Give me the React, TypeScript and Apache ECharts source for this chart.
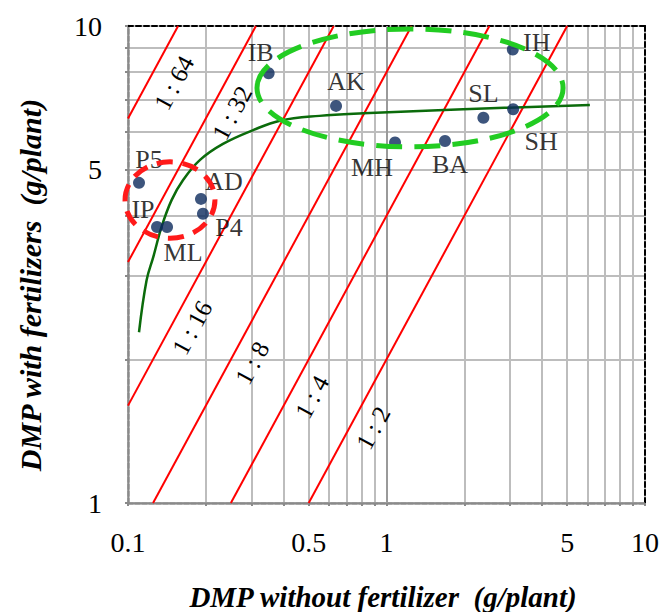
import React, { useEffect, useRef } from 'react';
import * as echarts from 'echarts';

// ---- axis ticks / grid values (g/plant) ----
const xGridValues = [0.1, 0.2, 0.3, 0.4, 0.5, 0.6, 0.7, 0.8, 0.9, 1, 2, 3, 4, 5, 6, 7, 8, 9, 10];
const yGridValues = [1, 2, 3, 4, 5, 6, 7, 8, 9, 10];
const xTickLabels = [0.1, 0.5, 1, 5, 10];
const yTickLabels = [1, 5, 10];

// ---- ratio guide lines  y = k * x  ("1 : k") ----
const ratioDenominators = [2, 4, 8, 16, 32, 64];
const ratioLabelX = [0.887, 0.515, 0.302, 0.177, 0.2525, 0.1507];
const ratioLabelY = [1.436, 1.668, 1.966, 2.33, 6.57, 7.6];

// ---- genotypes ----
const genotypes = ['IB', 'AK', 'MH', 'BA', 'SL', 'SH', 'IH', 'P5', 'AD', 'P4', 'IP', 'ML'];
const dmpWithoutFertilizer = [0.35, 0.638, 1.079, 1.684, 2.37, 3.09, 3.08, 0.1103, 0.1916, 0.195, 0.1295, 0.1416];
const dmpWithFertilizer = [7.96, 6.8, 5.7, 5.74, 6.42, 6.69, 8.93, 4.69, 4.34, 4.04, 3.79, 3.79];

// ---- fitted trend curve ----
const trendX = [0.1103, 0.118, 0.1253, 0.135, 0.1476, 0.1636, 0.19, 0.233, 0.305, 0.387, 0.55, 0.813, 1.98, 6.12];
const trendY = [2.28, 2.93, 3.28, 3.8, 4.32, 4.76, 5.24, 5.66, 6.05, 6.33, 6.48, 6.56, 6.69, 6.83];

// ---- group ellipses (data-space bounding boxes) ----
const ellipseXMin = [0.3155, 0.0974];
const ellipseXMax = [4.82, 0.217];
const ellipseYMin = [5.58, 3.59];
const ellipseYMax = [9.86, 5.19];

// label offsets (px) for genotype names
const labelOffsets: Record<string, [number, number]> = {
  IB: [-8, -21], AK: [10, -24], MH: [-23, 25], BA: [5, 24], SL: [0, -24], SH: [28, 32],
  IH: [24, -7], P5: [10, -23], AD: [23, -17], P4: [26, 14], IP: [-14, -17], ML: [16, 26],
};
const ellipseColors = ['#22cc22', '#ff1a1a'];
const ellipseDash = [[26, 12], [16, 10]];

const SERIF = '"Liberation Serif", "Times New Roman", serif';
const lg = (v: number) => Math.log10(v);
const fmt = (v: number) => String(Number(Math.pow(10, v).toPrecision(2)));

export default function App() {
  const ref = useRef<HTMLDivElement>(null);
  useEffect(() => {
    document.body.style.margin = '0';
    const chart = echarts.init(ref.current!, null, { renderer: 'svg' });

    const ratioSeries = ratioDenominators.map((k, i) => {
      const x1 = Math.max(0.1, 1 / k);
      const x2 = Math.min(10, 10 / k);
      return {
        type: 'line',
        silent: true,
        symbol: 'none',
        z: 3,
        data: [[lg(x1), lg(k * x1)], [lg(x2), lg(k * x2)]],
        lineStyle: { color: '#ff0000', width: 2 },
        ...(i === 0
          ? {
              markLine: {
                silent: true,
                symbol: 'none',
                label: { show: false },
                z: 1,
                lineStyle: { color: '#9a9a9a', width: 2, type: 'solid' },
                data: [{ xAxis: 0 }],
              },
            }
          : {}),
      };
    });

    const option: any = {
      animation: false,
      grid: { left: 128, right: 18, top: 26, bottom: 109, containLabel: false, outerBoundsMode: 'none' },
      xAxis: [
        {
          type: 'value', min: -1, max: 1, position: 'bottom',
          axisLine: { onZero: false, lineStyle: { color: '#8a8a8a', width: 2.5, type: [5, 2] } },
          axisTick: { show: true, length: 3, customValues: xGridValues.map(lg), lineStyle: { color: '#8a8a8a', width: 2 } },
          splitLine: { show: true, lineStyle: { color: '#bdbdbd', width: 2 } },
          axisLabel: {
            customValues: xTickLabels.map(lg), formatter: fmt, margin: 25,
            fontFamily: SERIF, fontSize: 28, color: '#000',
          },
        },
        {
          type: 'value', min: -1, max: 1, position: 'top',
          axisLine: { show: true, onZero: false, lineStyle: { color: '#000', width: 2, type: [5, 3] } },
          axisTick: { show: false }, axisLabel: { show: false }, splitLine: { show: false },
        },
      ],
      yAxis: [
        {
          type: 'value', min: 0, max: 1, position: 'left',
          axisLine: { show: true, onZero: false, lineStyle: { color: '#8a8a8a', width: 2.5, type: [5, 2] } },
          axisTick: { show: true, length: 3, customValues: yGridValues.map(lg), lineStyle: { color: '#8a8a8a', width: 2 } },
          splitLine: { show: true, lineStyle: { color: '#bdbdbd', width: 2 } },
          axisLabel: {
            customValues: yTickLabels.map(lg), formatter: fmt, margin: 26,
            fontFamily: SERIF, fontSize: 28, color: '#000',
          },
        },
        {
          type: 'value', min: 0, max: 1, position: 'right',
          axisLine: { show: true, onZero: false, lineStyle: { color: '#000', width: 2, type: [5, 3] } },
          axisTick: { show: false }, axisLabel: { show: false }, splitLine: { show: false },
        },
      ],
      graphic: [
        {
          type: 'text', x: 383, y: 597,
          style: {
            text: 'DMP without fertilizer  (g/plant)', fill: '#000',
            font: `italic bold 29px ${SERIF}`, align: 'center', verticalAlign: 'middle',
          },
        },
        {
          type: 'text', x: 30, y: 285, rotation: Math.PI / 2,
          style: {
            text: 'DMP with fertilizers  (g/plant)', fill: '#000',
            font: `italic bold 30px ${SERIF}`, align: 'center', verticalAlign: 'middle',
          },
        },
      ],
      series: [
        ...ratioSeries,
        {
          type: 'custom',
          silent: true,
          z: 4,
          data: ratioDenominators.map((k, i) => [lg(ratioLabelX[i]), lg(ratioLabelY[i]), k]),
          renderItem: (params: any, api: any) => {
            const lx = api.value(0);
            const ly = api.value(1);
            const p = api.coord([lx, ly]);
            const q = api.coord([lx + 0.1, ly + 0.1]);
            const ang = Math.atan2(p[1] - q[1], q[0] - p[0]);
            return {
              type: 'text', x: p[0], y: p[1], rotation: ang,
              style: {
                text: `1 : ${api.value(2)}`, fill: '#000',
                font: `25px ${SERIF}`, align: 'center', verticalAlign: 'middle',
              },
            };
          },
        },
        {
          type: 'line',
          silent: true,
          symbol: 'none',
          smooth: 0.4,
          z: 5,
          data: trendX.map((x, i) => [lg(x), lg(trendY[i])]),
          lineStyle: { color: '#0b6b0b', width: 2.5 },
        },
        {
          type: 'scatter',
          z: 6,
          symbolSize: 12,
          itemStyle: { color: '#0c2a5c' },
          data: genotypes.map((g, i) => ({
            name: g,
            value: [lg(dmpWithoutFertilizer[i]), lg(dmpWithFertilizer[i])],
            label: {
              show: true, position: 'inside', formatter: g, offset: labelOffsets[g],
              fontFamily: SERIF, fontSize: 26, color: '#000', align: 'center', verticalAlign: 'middle',
            },
          })),
        },
        {
          type: 'custom',
          silent: true,
          clip: false,
          z: 7,
          data: ellipseXMin.map((x, i) => [lg(x), lg(ellipseYMin[i]), lg(ellipseXMax[i]), lg(ellipseYMax[i]), i]),
          renderItem: (params: any, api: any) => {
            const a = api.coord([api.value(0), api.value(1)]);
            const b = api.coord([api.value(2), api.value(3)]);
            const idx = api.value(4);
            return {
              type: 'ellipse',
              shape: {
                cx: (a[0] + b[0]) / 2, cy: (a[1] + b[1]) / 2,
                rx: Math.abs(b[0] - a[0]) / 2, ry: Math.abs(b[1] - a[1]) / 2,
              },
              style: { fill: 'none', stroke: ellipseColors[idx], lineWidth: 5, lineDash: ellipseDash[idx] },
            };
          },
        },
      ],
    };
    chart.setOption(option);
    return () => chart.dispose();
  }, []);
  return <div ref={ref} style={{ width: 663, height: 612 }} />;
}
